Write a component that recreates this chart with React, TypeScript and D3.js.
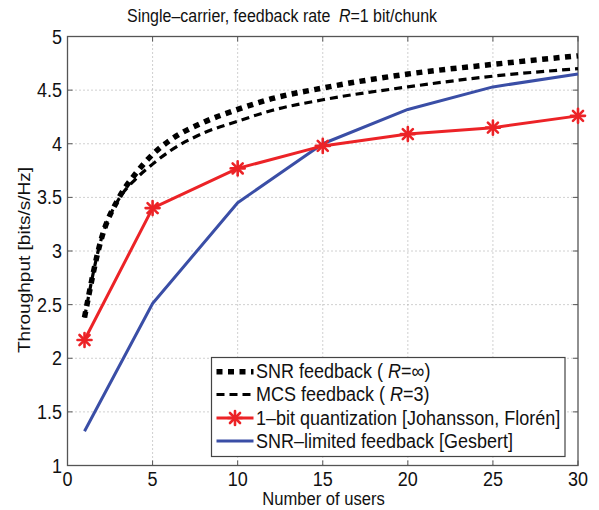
import React from "react";
import * as d3 from "d3";

const snrX = [1, 2, 3, 4, 5, 6, 8, 10, 12, 15, 20, 25, 30];
const snrY = [2.38, 3.12, 3.49, 3.72, 3.9, 4.03, 4.2, 4.32, 4.42, 4.52, 4.65, 4.74, 4.82];
const mcsX = [1, 2, 3, 4, 5, 6, 8, 10, 12, 15, 20, 25, 30];
const mcsY = [2.38, 3.12, 3.48, 3.67, 3.81, 3.93, 4.1, 4.21, 4.31, 4.41, 4.53, 4.63, 4.7];
const quantX = [1, 5, 10, 15, 20, 25, 30];
const quantY = [2.17, 3.4, 3.77, 3.98, 4.09, 4.15, 4.26];
const limX = [1, 5, 10, 15, 20, 25, 30];
const limY = [1.32, 2.51, 3.45, 4.0, 4.32, 4.53, 4.65];
const xTicks = [0, 5, 10, 15, 20, 25, 30];
const yTicks = [1, 1.5, 2, 2.5, 3, 3.5, 4, 4.5, 5];

const RED = "#ec2327";
const BLUE = "#3a4ea6";
const FONT = "'Liberation Sans', Arial, Helvetica, sans-serif";
const SY = 1.12;

function Txt({ x, y, size, anchor = "start", rotate = 0, sx = 1, sy = SY, children }: any) {
  return (
    <text
      transform={`translate(${x},${y}) rotate(${rotate}) scale(${sx},${sy})`}
      fontSize={size}
      textAnchor={anchor}
      fill="#111"
    >
      {children}
    </text>
  );
}

function Asterisk({ x, y, r = 7 }: { x: number; y: number; r?: number }) {
  const d = r * 0.72;
  return (
    <g stroke={RED} strokeWidth={2.6} strokeLinecap="round">
      <line x1={x - r} y1={y} x2={x + r} y2={y} />
      <line x1={x} y1={y - r} x2={x} y2={y + r} />
      <line x1={x - d} y1={y - d} x2={x + d} y2={y + d} />
      <line x1={x - d} y1={y + d} x2={x + d} y2={y - d} />
    </g>
  );
}

export default function App() {
  const W = 599, H = 510;
  const L = 67.5, R = 578, T = 36.5, B = 465.5;
  const x = d3.scaleLinear().domain([0, 30]).range([L, R]);
  const y = d3.scaleLinear().domain([1, 5]).range([B, T]);
  const line = d3.line<[number, number]>().x(d => x(d[0])).y(d => y(d[1]));
  const smooth = d3.line<[number, number]>().x(d => x(d[0])).y(d => y(d[1])).curve(d3.curveMonotoneX);
  const snr = snrX.map((v, i) => [v, snrY[i]] as [number, number]);
  const mcs = mcsX.map((v, i) => [v, mcsY[i]] as [number, number]);
  const quant = quantX.map((v, i) => [v, quantY[i]] as [number, number]);
  const lim = limX.map((v, i) => [v, limY[i]] as [number, number]);

  const legX = 211.5, legY = 357.5, legW = 353.5, legH = 99;
  const rows = [371.7, 394.5, 418, 441];
  const sx1 = 216.5, sx2 = 253.5, tx = 256;

  return (
    <svg width={W} height={H} style={{ position: "absolute", left: 0, top: 0, background: "#fff" }} fontFamily={FONT}>
      <rect width={W} height={H} fill="#fff" />
      {/* grid */}
      <g stroke="#a0a0a0" strokeWidth={1} strokeDasharray="1 3">
        {xTicks.slice(1, -1).map(t => (
          <line key={"gx" + t} x1={x(t)} x2={x(t)} y1={T} y2={B} />
        ))}
        {yTicks.slice(1, -1).map(t => (
          <line key={"gy" + t} x1={L} x2={R} y1={y(t)} y2={y(t)} />
        ))}
      </g>
      {/* ticks */}
      <g stroke="#555" strokeWidth={1}>
        {xTicks.map(t => (
          <g key={"tx" + t}>
            <line x1={x(t)} x2={x(t)} y1={B} y2={B - 5} />
            <line x1={x(t)} x2={x(t)} y1={T} y2={T + 5} />
          </g>
        ))}
        {yTicks.map(t => (
          <g key={"ty" + t}>
            <line x1={L} x2={L + 5} y1={y(t)} y2={y(t)} />
            <line x1={R} x2={R - 5} y1={y(t)} y2={y(t)} />
          </g>
        ))}
      </g>
      <rect x={L} y={T} width={R - L} height={B - T} fill="none" stroke="#555" strokeWidth={1.3} />
      {/* tick labels */}
      {xTicks.map(t => (
        <Txt key={"lx" + t} x={x(t)} y={486} size={18} anchor="middle">{t}</Txt>
      ))}
      {yTicks.map(t => (
        <Txt key={"ly" + t} x={62} y={y(t) + 7} size={18} anchor="end">{t}</Txt>
      ))}
      <Txt x={323.5} y={505} size={16.6} anchor="middle">Number of users</Txt>
      <Txt x={30} y={260} size={17} anchor="middle" rotate={-90} sx={1.12} sy={1}>Throughput [bits/s/Hz]</Txt>
      <Txt x={127} y={21.5} size={16} anchor="start">
        Single–carrier, feedback rate <tspan dx={4} fontStyle="italic">R</tspan>=1 bit/chunk
      </Txt>

      {/* series */}
      <path d={line(lim) || ""} fill="none" stroke={BLUE} strokeWidth={3} strokeLinejoin="round" />
      <path d={line(quant) || ""} fill="none" stroke={RED} strokeWidth={3} strokeLinejoin="round" />
      {quant.map((d, i) => (
        <Asterisk key={"m" + i} x={x(d[0])} y={y(d[1])} />
      ))}
      <path d={smooth(mcs) || ""} fill="none" stroke="#000" strokeWidth={3.2} strokeDasharray="8 5" />
      <path d={smooth(snr) || ""} fill="none" stroke="#000" strokeWidth={5.5} strokeDasharray="6 5.5" />

      {/* legend */}
      <rect x={legX} y={legY} width={legW} height={legH} fill="#fff" stroke="#444" strokeWidth={1.2} />
      <line x1={sx1} x2={sx2} y1={rows[0]} y2={rows[0]} stroke="#000" strokeWidth={5.5} strokeDasharray="6 5.5" />
      <line x1={sx1} x2={sx2} y1={rows[1]} y2={rows[1]} stroke="#000" strokeWidth={3.2} strokeDasharray="8 5" />
      <line x1={sx1} x2={sx2} y1={rows[2]} y2={rows[2]} stroke={RED} strokeWidth={3} />
      <Asterisk x={(sx1 + sx2) / 2} y={rows[2]} />
      <line x1={sx1} x2={sx2} y1={rows[3]} y2={rows[3]} stroke={BLUE} strokeWidth={3} />
      <Txt x={tx} y={rows[0] + 6.5} size={18}>SNR feedback ( <tspan fontStyle="italic">R</tspan>=∞)</Txt>
      <Txt x={tx} y={rows[1] + 6.5} size={18}>MCS feedback ( <tspan fontStyle="italic">R</tspan>=3)</Txt>
      <Txt x={tx} y={rows[2] + 6.5} size={18}>1–bit quantization [Johansson, Florén]</Txt>
      <Txt x={tx} y={rows[3] + 6.5} size={18}>SNR–limited feedback [Gesbert]</Txt>
    </svg>
  );
}
